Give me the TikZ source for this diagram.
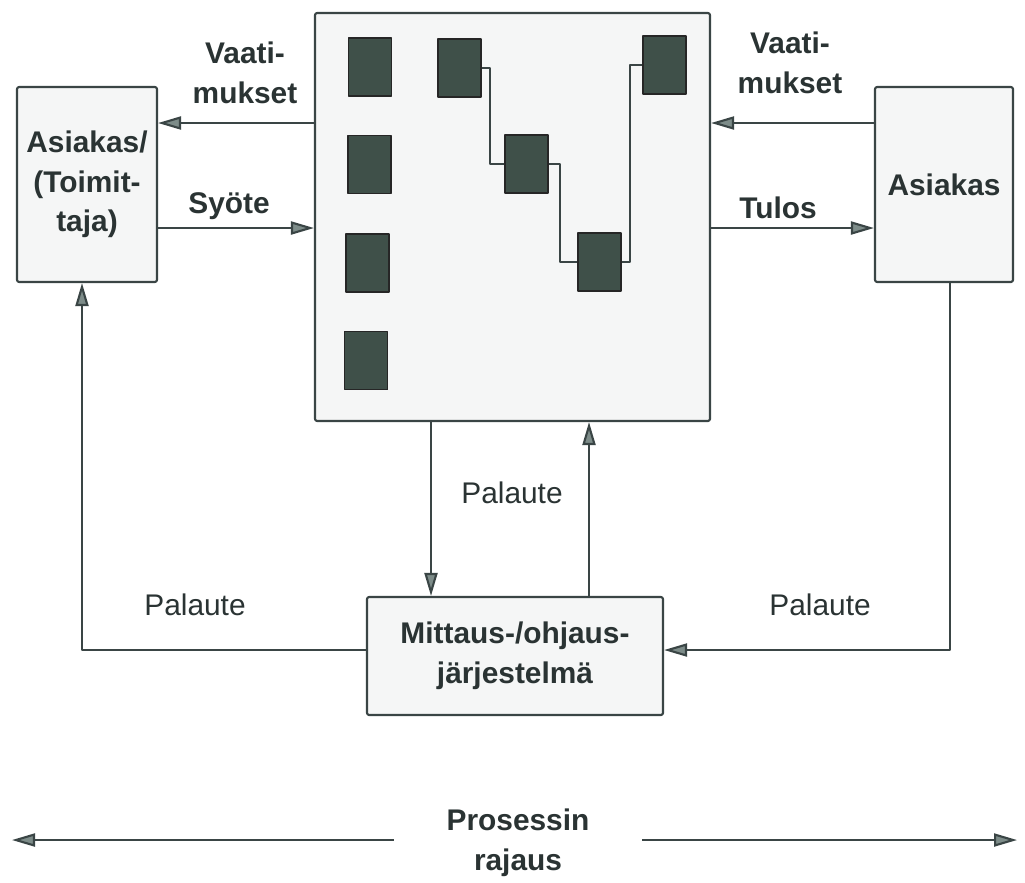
\documentclass[tikz,border=0pt]{standalone}
\usepackage{fontspec}
\setmainfont{Liberation Sans}
\usetikzlibrary{arrows.meta}
\definecolor{linegray}{HTML}{3A4545}
\definecolor{tipgray}{HTML}{7D8C89}
\definecolor{boxfill}{HTML}{F5F6F6}
\definecolor{chipfill}{HTML}{3F5049}
\definecolor{textgray}{HTML}{2A3333}
\tikzset{
  box/.style={draw=linegray,fill=boxfill,rounded corners=0.6pt,line width=0.6pt,inner sep=0pt,
    align=center,text=textgray,font=\fontsize{8.5}{11.3}\selectfont\bfseries},
  chip/.style={draw=black!85,fill=chipfill,minimum width=0.43cm,minimum height=0.58cm,inner sep=0pt,line width=0.5pt},
  flow/.style={draw=linegray,line width=0.6pt,-{Triangle[length=2.3mm,width=1.3mm,fill=tipgray]}},
  lbl/.style={align=center,text=textgray,font=\fontsize{8.5}{11.3}\selectfont\bfseries},
  thin lbl/.style={text=textgray,font=\fontsize{8.5}{11}\selectfont},
}
\begin{document}
\begin{tikzpicture}[x=0.1mm,y=-0.1mm,line join=round]
  \useasboundingbox (0,0) rectangle (1025,882);
  % boxes
  \node[box,minimum width=1.40cm,minimum height=1.95cm] (sup) at (87,184.5) {Asiakas/\\(Toimit-\\taja)};
  \node[box,minimum width=3.95cm,minimum height=4.08cm] (proc) at (512.5,217) {};
  \node[box,minimum width=1.38cm,minimum height=1.95cm] (cus) at (944,184.5) {Asiakas};
  \node[box,minimum width=2.96cm,minimum height=1.18cm] (meas) at (515,656) {Mittaus-/ohjaus-\\järjestelmä};
  % process steps
  \foreach \x/\y [count=\i] in {370/67,369.5/164.5,367.5/263,366/360.5}
    \node[chip] (s\i) at (\x,\y) {};
  \node[chip] (ta) at (459.5,68) {};
  \node[chip] (tb) at (526.5,164) {};
  \node[chip] (tc) at (599.5,262) {};
  \node[chip] (td) at (664.5,65) {};
  \draw[linegray,line width=0.6pt] (ta.east) -- ++(8,0) |- (tb.west);
  \draw[linegray,line width=0.6pt] (tb.east) -- ++(11,0) |- (tc.west);
  \draw[linegray,line width=0.6pt] (tc.east) -- ++(8,0) |- (td.west);
  % flows
  \coordinate (ry) at (0,123);
  \coordinate (iy) at (0,228);
  \coordinate (fb) at (0,650);
  \coordinate (fl) at (82,0);
  \coordinate (fr) at (950,0);
  \coordinate (dn) at (431,0);
  \coordinate (up) at (589,0);
  \draw[flow] (proc.west |- ry) -- (sup.east |- ry);
  \draw[flow] (sup.east |- iy) -- (proc.west |- iy);
  \draw[flow] (cus.west |- ry) -- (proc.east |- ry);
  \draw[flow] (proc.east |- iy) -- (cus.west |- iy);
  \draw[flow] (proc.south -| dn) -- (meas.north -| dn);
  \draw[flow] (meas.north -| up) -- (proc.south -| up);
  \draw[flow] (meas.west |- fb) -| (sup.south -| fl);
  \draw[flow] (cus.south -| fr) |- (meas.east |- fb);
  \node[lbl] (lreq) at (245,73) {Vaati-\\mukset};
  \node[lbl] (rreq) at (790,63) {Vaati-\\mukset};
  \node[lbl] (inp) at (229,206) {Syöte};
  \node[lbl] (out) at (778,208) {Tulos};
  \node[thin lbl] (fbc) at (512,493) {Palaute};
  \node[thin lbl] (fbl) at (195,605) {Palaute};
  \node[thin lbl] (fbr) at (820,605) {Palaute};
  % process boundary
  \coordinate (bl) at (12,840);
  \coordinate (br) at (1017,840);
  \node[lbl,inner xsep=5.2mm] (bnd) at (518,843) {Prosessin\\rajaus};
  \draw[flow] (bnd.west |- bl) -- (bl);
  \draw[flow] (bnd.east |- br) -- (br);
\end{tikzpicture}
\end{document}
